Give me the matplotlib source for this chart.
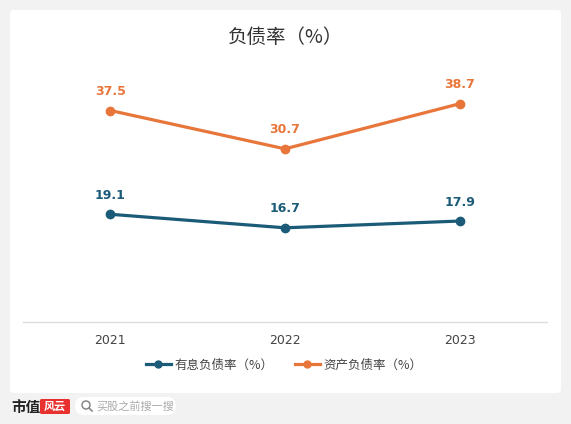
import matplotlib
matplotlib.use("Agg")
import matplotlib.pyplot as plt
from matplotlib.patches import FancyBboxPatch, Circle
from matplotlib.lines import Line2D

plt.rcParams['font.family'] = ['Noto Sans CJK SC', 'DejaVu Sans']

years = ["2021", "2022", "2023"]
interest_debt = [19.1, 16.7, 17.9]
asset_debt = [37.5, 30.7, 38.7]
series_names = ["有息负债率（%）", "资产负债率（%）"]
title = "负债率（%）"

W, H = 571, 424
fig = plt.figure(figsize=(W / 100, H / 100), dpi=100)
fig.patch.set_facecolor("#f2f2f2")

def fx(px):
    return px / W

def fy(py):
    return 1 - py / H

# background overlay axes in pixel coordinates
bg = fig.add_axes([0, 0, 1, 1], zorder=-5)
bg.set_xlim(0, W)
bg.set_ylim(H, 0)
bg.axis("off")
bg.add_patch(FancyBboxPatch((10, 10), 551, 383, boxstyle="round,pad=0,rounding_size=4",
                            facecolor="white", edgecolor="none"))

blue = "#1b5b78"
orange = "#e8763a"

ax = fig.add_axes([fx(23), fy(322), fx(547) - fx(23), fy(40) - fy(322)], zorder=1)
ax.set_facecolor("none")
x = list(range(len(years)))
ax.plot(x, interest_debt, color=blue, lw=2.3, marker="o", ms=6, solid_capstyle="round", zorder=3)
ax.plot(x, asset_debt, color=orange, lw=2.3, marker="o", ms=6, solid_capstyle="round", zorder=3)
for xi, v in zip(x, interest_debt):
    ax.annotate(f"{v}", (xi, v), xytext=(0, 9), textcoords="offset points",
                ha="center", va="bottom", fontsize=9, fontweight="bold", color=blue,
                family=["DejaVu Sans"])
for xi, v in zip(x, asset_debt):
    ax.annotate(f"{v}", (xi, v), xytext=(0, 9), textcoords="offset points",
                ha="center", va="bottom", fontsize=9, fontweight="bold", color=orange,
                family=["DejaVu Sans"])
ax.set_xlim(-0.5, 2.5)
ax.set_ylim(0, 50)
ax.set_xticks(x)
ax.set_xticklabels(years, fontsize=9, color="#444444", family=["DejaVu Sans"])
ax.tick_params(axis="x", length=0, pad=9)
ax.set_yticks([])
for s in ["top", "right", "left"]:
    ax.spines[s].set_visible(False)
ax.spines["bottom"].set_color("#dddddd")
ax.spines["bottom"].set_linewidth(1)

fig.text(0.5, fy(37), title, ha="center", va="center", fontsize=14, color="#333333")

# legend
handles = [Line2D([0], [0], color=blue, lw=2.3, marker="o", ms=5),
           Line2D([0], [0], color=orange, lw=2.3, marker="o", ms=5)]
fig.legend(handles, series_names, loc="center", bbox_to_anchor=(fx(284), fy(365)),
           ncol=2, frameon=False, fontsize=9, handlelength=2.0, handletextpad=0.3,
           columnspacing=1.7, labelcolor="#444444")

# footer
bg.text(11, 407, "市值", ha="left", va="center", fontsize=10.5, fontweight="bold", color="#222222")
bg.add_patch(FancyBboxPatch((40, 399), 30, 15, boxstyle="round,pad=0,rounding_size=1.5",
                            facecolor="#e8312f", edgecolor="none"))
bg.text(55, 406.5, "风云", ha="center", va="center", fontsize=8, color="white",
        style="italic", fontweight="bold")
bg.add_patch(FancyBboxPatch((75, 397), 101, 18, boxstyle="round,pad=0,rounding_size=9",
                            facecolor="white", edgecolor="none"))
bg.add_patch(Circle((86, 405), 4, facecolor="none", edgecolor="#888888", lw=1.1))
bg.plot([89, 92], [408, 411], color="#888888", lw=1.2)
bg.text(96, 406, "买股之前搜一搜", ha="left", va="center", fontsize=8, color="#aaaaaa")

fig.savefig("out.png", dpi=100, facecolor=fig.get_facecolor())
